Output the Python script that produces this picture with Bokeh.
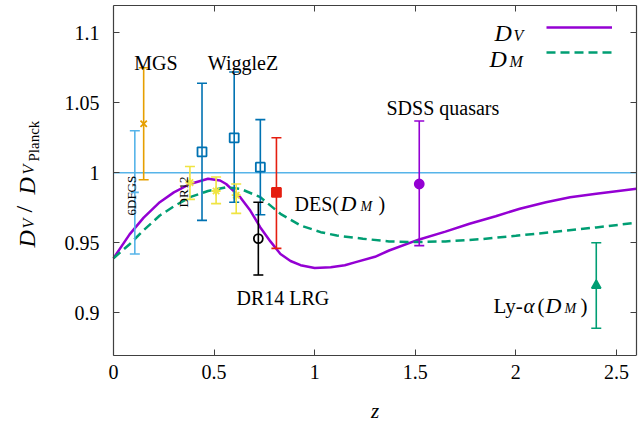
import math
from bokeh.plotting import figure
from bokeh.models import (ColumnDataSource, Whisker, TeeHead, Label, Legend,
                          LegendItem, LinearAxis, FixedTicker, Range1d)
from bokeh.embed import file_html
from bokeh.resources import INLINE

# ---------------- data ----------------
z_dv = [0.00, 0.08, 0.15, 0.23, 0.30, 0.38, 0.47, 0.53, 0.56, 0.63, 0.68, 0.73, 0.78,
        0.83, 0.88, 0.93, 1.00, 1.08, 1.15, 1.20, 1.30, 1.37, 1.52, 1.65, 1.77, 1.90,
        2.02, 2.15, 2.27, 2.40, 2.60]
dv_ratio = [0.939, 0.956, 0.968, 0.979, 0.986, 0.992, 0.9957, 0.9945, 0.992, 0.9826,
            0.973, 0.961, 0.951, 0.942, 0.937, 0.934, 0.932, 0.9326, 0.934, 0.936, 0.940,
            0.9445, 0.9524, 0.958, 0.9636, 0.969, 0.9743, 0.979, 0.9826, 0.985, 0.9886]

z_dm = [0.00, 0.08, 0.15, 0.23, 0.30, 0.38, 0.47, 0.56, 0.63, 0.73, 0.83, 0.93, 1.03,
        1.11, 1.24, 1.37, 1.49, 1.65, 1.82, 2.00, 2.18, 2.40, 2.60]
dm_ratio = [0.939, 0.949, 0.959, 0.9695, 0.976, 0.9826, 0.987, 0.9897, 0.9886, 0.9826,
            0.9707, 0.9624, 0.9576, 0.9552, 0.9529, 0.951, 0.9505, 0.951, 0.9525, 0.955,
            0.9576, 0.961, 0.9643]

z_6dfgs = [0.106]; v_6dfgs = [0.986]; lo_6dfgs = [0.942]; hi_6dfgs = [1.030]
z_mgs = [0.15]; v_mgs = [1.035]; lo_mgs = [0.995]; hi_mgs = [1.075]
z_wigglez = [0.44, 0.60, 0.73]; v_wigglez = [1.015, 1.025, 1.004]
lo_wigglez = [0.966, 0.979, 0.970]; hi_wigglez = [1.064, 1.072, 1.038]
z_dr12 = [0.38, 0.51, 0.61]; v_dr12 = [0.993, 0.987, 0.984]
lo_dr12 = [0.981, 0.978, 0.971]; hi_dr12 = [1.0045, 0.997, 0.992]
z_dr14 = [0.72]; v_dr14 = [0.953]; lo_dr14 = [0.927]; hi_dr14 = [0.979]
z_des = [0.81]; v_des = [0.986]; lo_des = [0.946]; hi_des = [1.025]
z_qso = [1.52]; v_qso = [0.992]; lo_qso = [0.948]; hi_qso = [1.037]
z_lya = [2.40]; v_lya = [0.9195]; lo_lya = [0.889]; hi_lya = [0.950]

ref_level = 1.0   # Planck reference line

x_ticks = [0, 0.5, 1, 1.5, 2, 2.5]
x_tick_labels = ["0", "0.5", "1", "1.5", "2", "2.5"]
y_ticks = [0.9, 0.95, 1.0, 1.05, 1.1]
y_tick_labels = ["0.9", "0.95", "1", "1.05", "1.1"]

# ---------------- figure ----------------
FONT = "Liberation Serif"
AX = "#404040"

X_LO, X_HI = 0.0, 2.6          # data box in x
Y_LO, Y_HI = 0.8695, 1.1195    # data box in y
PAD_LEFT = 113                 # px of room left of the data box (inside the frame)
PAD_BOTTOM = 68                # px of room below the data box (inside the frame)
FRAME_W, DATA_W = 636, 523
DATA_H = 350
FRAME_H = DATA_H + PAD_BOTTOM
x_start = X_LO - PAD_LEFT * (X_HI - X_LO) / DATA_W
y_start = Y_LO - PAD_BOTTOM * (Y_HI - Y_LO) / DATA_H

p = figure(frame_width=FRAME_W, frame_height=FRAME_H,
           x_range=Range1d(x_start, X_HI), y_range=Range1d(y_start, Y_HI),
           output_backend="svg", toolbar_location=None,
           min_border_left=0, min_border_right=2, min_border_top=5, min_border_bottom=0)
p.grid.visible = False
p.outline_line_color = None
p.background_fill_color = "white"
p.border_fill_color = "white"

for ax in (p.xaxis[0], p.yaxis[0]):
    ax.axis_line_color = AX
    ax.axis_line_width = 1.2
    ax.major_tick_line_color = AX
    ax.major_tick_in = 6
    ax.major_tick_out = 0
    ax.minor_tick_line_color = None
    ax.major_label_text_font = FONT
    ax.major_label_text_font_size = "20px"
    ax.major_label_text_color = "black"

p.xaxis.fixed_location = Y_LO
p.xaxis.bounds = (X_LO, X_HI)
p.xaxis.ticker = FixedTicker(ticks=x_ticks)
p.xaxis.major_label_overrides = {t: s for t, s in zip(x_ticks, x_tick_labels)}
p.xaxis.major_label_standoff = 9

p.yaxis.fixed_location = X_LO
p.yaxis.bounds = (Y_LO, Y_HI)
p.yaxis.ticker = FixedTicker(ticks=y_ticks)
p.yaxis.major_label_overrides = {t: s for t, s in zip(y_ticks, y_tick_labels)}
p.yaxis.major_label_standoff = 14

# mirror axes on top / right (ticks only)
top = LinearAxis(ticker=FixedTicker(ticks=x_ticks), bounds=(X_LO, X_HI),
                 major_tick_in=6, major_tick_out=0,
                 major_tick_line_color=AX, minor_tick_line_color=None,
                 axis_line_color=AX, axis_line_width=1.2,
                 major_label_text_font_size="0px", major_label_standoff=0,
                 major_label_overrides={t: "" for t in x_ticks})
right = LinearAxis(ticker=FixedTicker(ticks=y_ticks), bounds=(Y_LO, Y_HI),
                   major_tick_in=6, major_tick_out=0,
                   major_tick_line_color=AX, minor_tick_line_color=None,
                   axis_line_color=AX, axis_line_width=1.2,
                   major_label_text_font_size="0px", major_label_standoff=0,
                   major_label_overrides={t: "" for t in y_ticks})
p.add_layout(top, "above")
p.add_layout(right, "right")

# reference line at 1 (only across the data box)
p.segment(x0=[X_LO], y0=[ref_level], x1=[X_HI], y1=[ref_level],
          line_color="#56B4E9", line_width=1.5)

# curves
r_dv = p.line(z_dv, dv_ratio, line_color="#9400D3", line_width=2.5)
r_dm = p.line(z_dm, dm_ratio, line_color="#009E73", line_width=2.5, line_dash="9 5")

# data sets with error bars
groups = [
    (z_6dfgs, v_6dfgs, lo_6dfgs, hi_6dfgs, "#56B4E9", "dash", False),
    (z_mgs, v_mgs, lo_mgs, hi_mgs, "#E69F00", "x", False),
    (z_wigglez, v_wigglez, lo_wigglez, hi_wigglez, "#0072B2", "square", False),
    (z_dr12, v_dr12, lo_dr12, hi_dr12, "#F0E442", "asterisk", False),
    (z_dr14, v_dr14, lo_dr14, hi_dr14, "black", "circle", False),
    (z_des, v_des, lo_des, hi_des, "#E51E10", "square", True),
    (z_qso, v_qso, lo_qso, hi_qso, "#9400D3", "circle", True),
    (z_lya, v_lya, lo_lya, hi_lya, "#009E73", "triangle", True),
]
for zz, vv, lo, hi, col, mk, filled in groups:
    src = ColumnDataSource(dict(z=zz, v=vv, lo=lo, hi=hi))
    w = Whisker(source=src, base="z", lower="lo", upper="hi", dimension="height",
                line_color=col, line_width=1.6, level="glyph",
                upper_head=TeeHead(size=10, line_color=col, line_width=1.6),
                lower_head=TeeHead(size=10, line_color=col, line_width=1.6))
    p.add_layout(w)
    p.scatter("z", "v", source=src, marker=mk, size=9 if mk != "dash" else 8,
              line_color=col, line_width=1.8,
              fill_color=col if filled else None)

# ---------------- text ----------------
def dx(px):
    return (px - PAD_LEFT) / (DATA_W / (X_HI - X_LO))

def dy(py):
    return 1.0 - (py - 172.3) / 1400.0

def lab(px, py, text, size, style="normal", align="left", angle=0.0):
    p.add_layout(Label(x=dx(px), y=dy(py), text=text, text_font=FONT,
                       text_font_size=f"{size}px", text_font_style=style,
                       text_align=align, text_baseline="alphabetic", angle=angle,
                       text_color="black"))

# x-axis title
lab(374.5, 410, "z", 21, "italic", align="center")

lab(155.5, 62, "MGS", 20, align="center")
lab(242.5, 62, "WiggleZ", 20, align="center")
lab(386, 107, "SDSS quasars", 20)
lab(236, 297, "DR14 LRG", 20)
lab(131, 215, "6DFGS", 13, angle=math.pi / 2)
lab(183, 207, "DR12", 13, angle=math.pi / 2)

# DES(D_M)
lab(294, 203, "DES(", 20)
lab(340, 203, "D", 22, "italic")
lab(360, 206, "M", 14, "italic")
lab(378, 203, ")", 20)

# Ly-alpha(D_M)
lab(493, 305, "Ly-", 21)
lab(523, 305, "α", 21, "italic")
lab(537, 305, "(", 21)
lab(545, 305, "D", 22, "italic")
lab(564, 308, "M", 14, "italic")
lab(580, 305, ")", 21)

# y-axis label  D_V / D_{V_Planck}
R = math.pi / 2
lab(26, 247, "D", 24, "italic", angle=R)
lab(28, 228, "V", 16, "italic", angle=R)
lab(23, 212, "/", 24, angle=R)
lab(26, 194, "D", 24, "italic", angle=R)
lab(28, 174, "V", 16, "italic", angle=R)
lab(33, 161, "Planck", 15, angle=R)

# legend labels (text left of the key lines)
lab(494, 32, "D", 24, "italic")
lab(513, 35, "V", 16, "italic")
lab(489, 58, "D", 24, "italic")
lab(509, 61, "M", 16, "italic")

legend = Legend(items=[LegendItem(label=" ", renderers=[r_dv]),
                       LegendItem(label=" ", renderers=[r_dm])],
                location=(546, 293 + PAD_BOTTOM), orientation="vertical",
                glyph_width=66, glyph_height=20, label_width=0, label_height=20,
                label_standoff=0, label_text_font_size="1px", spacing=5,
                padding=0, margin=0, border_line_alpha=0, background_fill_alpha=0)
p.add_layout(legend, "center")

open("out.html", "w").write(file_html(p, INLINE))
